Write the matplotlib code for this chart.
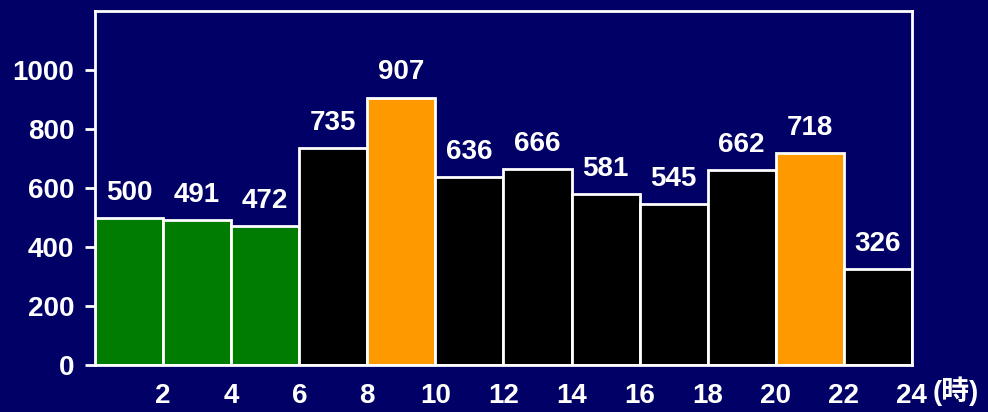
import matplotlib.pyplot as plt
from matplotlib import font_manager
import numpy as np

# pick the regular-width bold Liberation Sans (not the Narrow variant)
bold_path = None
for f in font_manager.fontManager.ttflist:
    if f.name == 'Liberation Sans' and f.weight in (700, 'bold') and 'Narrow' not in f.fname:
        bold_path = f.fname
        break
if bold_path:
    font_manager.fontManager.addfont(bold_path)

plt.rcParams['font.family'] = ['Liberation Sans', 'Noto Sans CJK JP', 'DejaVu Sans']
plt.rcParams['font.weight'] = 'bold'

# hourly counts in 2-hour bins (0-2, 2-4, ..., 22-24)
bin_starts = [0, 2, 4, 6, 8, 10, 12, 14, 16, 18, 20, 22]
counts = [500, 491, 472, 735, 907, 636, 666, 581, 545, 662, 718, 326]
bar_colors = ['#007c00', '#007c00', '#007c00', 'black', '#ff9900', 'black',
              'black', 'black', 'black', 'black', '#ff9900', 'black']
x_ticks = [2, 4, 6, 8, 10, 12, 14, 16, 18, 20, 22, 24]
y_ticks = [0, 200, 400, 600, 800, 1000]

BG = '#000066'
FS = 20

fig = plt.figure(figsize=(9.88, 4.12), dpi=100, facecolor=BG)
ax = fig.add_axes([0.0962, 0.114, 0.8268, 0.859])
ax.set_facecolor(BG)

ax.bar(bin_starts, counts, width=2, align='edge', color=bar_colors,
       edgecolor='white', linewidth=2)

for x0, v in zip(bin_starts, counts):
    ax.annotate(str(v), (x0 + 1, v), xytext=(0, 13), textcoords='offset points',
                ha='center', va='baseline', color='white', fontsize=FS,
                fontweight='bold')

ax.set_xlim(0, 24)
ax.set_ylim(0, 1200)
ax.set_xticks(x_ticks)
ax.set_xticklabels([str(t) for t in x_ticks])
ax.set_yticks(y_ticks)

ax.tick_params(axis='x', length=0, pad=13, colors='white', labelsize=FS)
ax.tick_params(axis='y', length=7, width=2, pad=8, colors='white', labelsize=FS)

for side in ['left', 'right', 'top', 'bottom']:
    ax.spines[side].set_color('white')
    ax.spines[side].set_linewidth(2)

fig.text(0.967, 0.03, '(時)', color='white', fontsize=FS, fontweight='bold',
         ha='center', va='baseline')

fig.savefig('out.png', dpi=100, facecolor=BG)
